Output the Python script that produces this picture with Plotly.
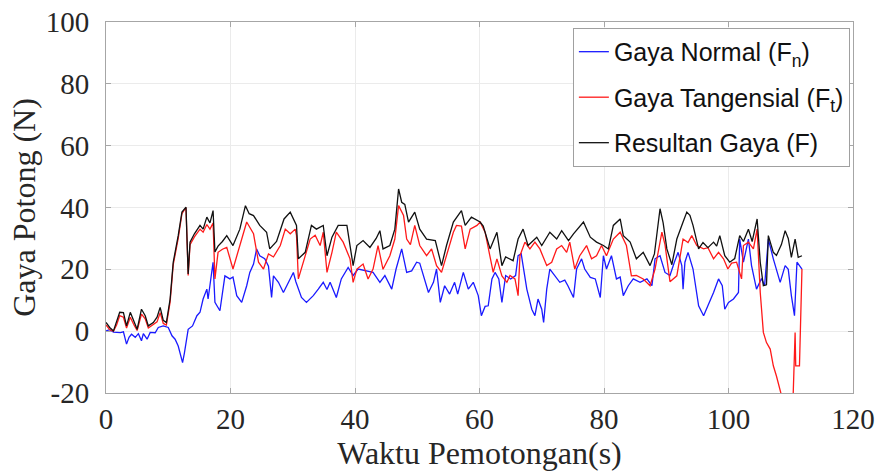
import plotly.graph_objects as go

# ---------------- data ----------------
t_fn = [0.0, 0.6, 1.2, 1.7, 2.3, 2.8, 3.3, 3.7, 4.1, 4.7, 5.2, 5.7, 6.0, 6.6, 7.1, 7.9, 8.4, 9.2, 10.0,
        10.6, 11.1, 11.6, 12.3, 12.6, 13.2, 13.9, 14.6, 15.1, 15.6, 16.2, 16.4, 17.2, 17.5, 18.3, 19.1,
        19.9, 20.4, 21.0, 21.8, 22.6, 23.1, 23.7, 24.2, 24.7, 25.5, 26.1, 26.6, 26.9, 27.7, 28.5, 29.6,
        30.1, 30.5, 30.9, 31.4, 32.2, 33.3, 34.1, 34.9, 35.5, 36.0, 37.0, 37.8, 38.9, 39.7, 40.5, 41.6,
        42.9, 44.0, 44.8, 45.9, 46.6, 47.5, 48.3, 49.1, 49.9, 50.4, 51.0, 51.8, 52.6, 53.1, 53.7, 54.4,
        55.2, 56.0, 56.5, 57.4, 58.2, 59.0, 59.8, 60.3, 60.9, 61.4, 62.0, 62.5, 63.1, 63.6, 64.2, 65.0,
        65.8, 66.2, 66.7, 67.6, 68.4, 68.9, 69.4, 70.0, 70.3, 70.8, 71.3, 72.1, 72.9, 73.7, 74.2, 75.1,
        75.6, 76.4, 76.9, 77.8, 78.6, 79.4, 79.9, 80.4, 81.2, 82.0, 82.6, 83.1, 83.9, 84.7, 85.8, 86.9,
        87.7, 88.2, 89.0, 89.8, 90.6, 91.3, 91.9, 92.5, 92.7, 93.0, 93.5, 94.3, 95.2, 96.0, 96.7, 97.6,
        98.4, 99.0, 99.4, 100.0, 100.8, 101.6, 101.8, 102.4, 103.2, 103.7, 104.5, 105.3, 105.8, 106.4,
        107.2, 108.3, 109.1, 109.6, 110.1, 110.6, 111.0, 111.8]
fn = [0.1, 0.5, -0.3, -0.4, -0.5, -0.2, -4.2, -2.0, -1.0, -2.0, -0.8, -3.1, -0.8, -2.6, -0.4, -0.5, 1.2, 1.7, 1.2,
      -1.5, -2.6, -4.8, -10.2, -7.0, 0.6, 1.7, 5.0, 6.1, 10.4, 13.6, 10.4, 22.3, 9.3, 6.6, 17.9,
      16.9, 17.5, 11.5, 9.3, 14.7, 19.0, 21.7, 26.6, 24.4, 23.4, 21.0, 10.9, 17.9, 15.8, 12.5, 16.9,
      19.0, 16.0, 13.6, 10.9, 9.3, 11.5, 13.6, 15.8, 13.5, 15.8, 10.9, 16.9, 20.6, 18.0, 20.1, 19.6,
      19.0, 15.8, 18.0, 13.6, 20.1, 26.6, 19.0, 19.5, 22.3, 22.0, 18.0, 12.5, 15.8, 20.1, 9.3, 14.7,
      12.0, 15.8, 12.0, 19.0, 13.6, 15.8, 11.5, 5.0, 8.0, 8.2, 16.9, 19.0, 16.9, 9.3, 18.0, 16.9,
      18.0, 24.4, 25.0, 13.6, 7.1, 5.0, 10.4, 7.1, 2.8, 13.6, 20.1, 18.0, 15.8, 16.5, 14.7, 10.9,
      20.1, 23.4, 20.1, 17.4, 16.9, 10.9, 24.4, 20.1, 24.4, 16.9, 17.5, 11.5, 14.7, 16.9, 15.8, 16.9,
      14.7, 23.4, 24.4, 19.0, 18.0, 22.3, 25.5, 21.2, 13.6, 22.3, 25.5, 20.1, 8.2, 5.0, 8.2, 12.5,
      16.9, 14.7, 7.1, 9.3, 10.4, 12.5, 29.8, 22.3, 29.8, 21.2, 13.6, 17.0, 14.7, 29.8,
      23.4, 15.8, 21.2, 20.0, 11.5, 5.0, 22.3, 20.1]

t_ft = [0.0, 0.6, 1.2, 1.7, 2.2, 2.8, 3.3, 3.9, 4.5, 5.0, 5.7, 6.3, 6.8, 7.6, 8.2, 8.7, 9.2, 9.7, 10.3,
        10.8, 11.6, 12.2, 12.85, 13.2, 13.5, 14.2, 15.1, 15.6, 16.2, 16.7, 17.2, 17.5, 18.0, 18.7, 19.4,
        20.4, 21.5, 22.6, 23.7, 24.5, 25.3, 26.1, 26.9, 28.0, 28.8, 29.6, 30.4, 30.6, 30.9, 31.7, 32.8,
        33.6, 34.4, 34.9, 35.5, 36.3, 37.0, 38.1, 39.2, 39.7, 40.3, 41.3, 42.1, 42.9, 43.7, 44.5, 45.6,
        46.4, 47.0, 47.8, 48.3, 48.9, 49.6, 50.4, 51.5, 52.3, 53.1, 53.9, 54.7, 55.8, 56.3, 57.1, 57.7,
        58.5, 59.6, 60.1, 60.9, 61.7, 62.2, 62.8, 63.6, 64.4, 64.9, 65.7, 66.2, 66.5, 67.3, 68.1, 68.9,
        69.7, 70.8, 71.6, 72.4, 73.2, 74.0, 74.5, 75.3, 76.1, 77.2, 78.0, 78.8, 79.6, 80.4, 81.5, 82.6,
        83.6, 84.4, 85.2, 86.3, 87.4, 88.2, 89.3, 89.8, 90.6, 91.7, 92.7, 93.5, 94.1, 94.9, 96.0, 96.7,
        97.6, 98.4, 99.2, 99.9, 100.5, 101.3, 102.1, 102.4, 103.2, 104.0, 104.6, 105.1, 105.6, 106.1,
        106.7, 107.2, 107.7, 108.3, 108.8, 109.5, 110.2, 110.4, 110.7, 110.8, 111.4, 111.8]
ft = [2.0, 0.5, 0.0, 2.0, 5.0, 4.5, 1.0, 4.5, 2.0, 0.2, 5.5, 4.0, 1.0, 2.0, 3.0, 6.0, 2.5, 2.0, 9.5,
      21.5, 30.0, 38.0, 40.0, 18.0, 28.0, 30.5, 33.0, 32.0, 34.5, 33.0, 35.0, 16.9, 25.5, 26.5, 27.1,
      20.1, 27.7, 35.3, 31.5, 22.3, 20.1, 25.0, 24.0, 27.7, 33.0, 31.5, 33.0, 31.0, 16.9, 22.4, 29.8,
      31.0, 27.7, 32.0, 19.0, 25.5, 32.0, 28.8, 23.4, 15.8, 20.1, 21.7, 16.9, 20.1, 27.7, 20.0, 24.4,
      29.8, 40.6, 37.4, 29.8, 28.0, 34.2, 27.7, 24.4, 26.6, 21.2, 19.0, 24.4, 32.0, 34.2, 34.0, 26.6,
      33.0, 34.2, 35.3, 32.0, 23.4, 19.0, 23.4, 17.9, 15.8, 18.0, 16.9, 11.5, 24.4, 28.8, 26.6, 28.8,
      26.6, 21.2, 22.3, 26.6, 27.7, 25.5, 28.8, 20.1, 24.4, 27.7, 23.4, 24.4, 27.7, 24.4, 29.8, 32.0,
      27.7, 17.9, 18.0, 16.9, 14.7, 20.1, 32.0, 28.0, 16.0, 17.9, 29.8, 28.7, 30.9, 27.7, 26.6, 27.0,
      23.4, 25.5, 23.4, 20.1, 22.0, 22.3, 16.9, 27.7, 28.8, 26.6, 33.0, 12.5, -0.4, -3.7,
      -5.8, -11.2, -14.5, -18.8, -23.0, -26.0, -24.0, -19.9, -0.4, -11.2, -11.2, 20.1]

t_f = [0.0, 0.6, 1.2, 1.7, 2.2, 2.8, 3.3, 3.9, 4.5, 5.0, 5.7, 6.3, 6.8, 7.6, 8.2, 8.7, 9.2, 9.7, 10.3,
       10.8, 11.6, 12.2, 12.85, 13.2, 13.5, 14.2, 15.1, 15.6, 16.2, 16.7, 17.2, 17.5, 18.0, 18.7, 19.4,
       20.4, 21.5, 22.4, 23.0, 23.7, 24.7, 25.8, 26.3, 27.4, 28.6, 29.6, 30.6, 30.9, 32.0, 33.0, 33.8,
       34.9, 35.5, 36.3, 37.3, 38.7, 39.7, 40.3, 41.3, 42.4, 43.4, 44.0, 44.5, 45.6, 46.4, 47.0, 47.5,
       48.0, 48.6, 49.6, 50.4, 51.5, 52.9, 53.9, 54.7, 55.8, 57.1, 57.7, 58.7, 60.1, 60.6, 61.7, 62.8,
       63.6, 64.2, 65.4, 66.2, 67.0, 67.8, 69.2, 70.0, 71.3, 72.4, 73.2, 74.3, 75.1, 76.7, 77.8, 78.8,
       79.9, 80.7, 81.5, 82.6, 83.1, 84.2, 85.2, 86.3, 87.4, 88.1, 89.0, 89.5, 90.1, 90.9, 91.7, 92.7,
       93.3, 93.8, 94.3, 95.2, 95.9, 96.7, 97.6, 98.1, 98.6, 99.4, 100.2, 101.0, 101.8, 102.4, 103.2,
       103.8, 104.6, 105.1, 105.6, 106.1, 106.4, 107.2, 107.7, 108.5, 109.1, 109.6, 110.1, 110.7,
       111.2, 111.8]
f = [2.8, 1.2, 0.1, 3.0, 6.1, 6.0, 1.7, 6.1, 2.8, 0.6, 7.1, 5.0, 1.7, 2.8, 4.5, 7.7, 3.5, 2.8, 10.4,
     22.3, 30.9, 38.5, 40.1, 18.5, 28.8, 31.5, 34.2, 33.0, 36.9, 35.0, 39.0, 25.6, 27.5, 29.0, 30.9,
     27.7, 33.0, 40.6, 38.0, 37.4, 34.2, 32.0, 26.6, 29.0, 36.3, 38.5, 34.2, 23.4, 25.5, 34.2, 33.0,
     34.2, 24.4, 30.4, 34.2, 34.2, 21.2, 27.7, 29.3, 27.1, 30.0, 32.5, 26.6, 27.7, 33.0, 46.0, 41.7,
     41.0, 35.3, 38.5, 33.0, 29.8, 29.3, 21.2, 27.7, 35.3, 39.0, 34.2, 36.9, 35.3, 34.0, 26.6, 32.0,
     21.2, 24.0, 22.8, 29.8, 33.0, 27.7, 30.4, 27.7, 32.0, 29.8, 32.5, 29.3, 31.5, 35.3, 30.4, 28.8,
     27.7, 26.6, 34.2, 36.3, 30.9, 28.8, 23.4, 25.5, 21.2, 25.0, 39.6, 35.0, 26.6, 21.5, 29.8, 35.3,
     38.5, 37.5, 34.2, 26.6, 28.7, 27.0, 28.8, 27.5, 30.9, 24.4, 22.3, 23.5, 30.9, 29.0, 33.0,
     29.0, 36.3, 22.3, 14.7, 15.0, 30.9, 25.5, 24.5, 28.0, 32.5, 30.0, 23.9, 29.8,
     23.9, 24.4]

x_ticks = [0, 20, 40, 60, 80, 100, 120]
y_ticks = [-20, 0, 20, 40, 60, 80, 100]

series_names = ["Gaya Normal (F<sub>n</sub>)", "Gaya Tangensial (F<sub>t</sub>)", "Resultan Gaya (F)"]
series_colors = ["#1a1aff", "#ff1a1a", "#111111"]

fig = go.Figure()
for i, (tx, ty) in enumerate([(t_fn, fn), (t_ft, ft), (t_f, f)]):
    fig.add_trace(go.Scatter(
        x=tx, y=ty, mode="lines", name=series_names[i],
        line=dict(color=series_colors[i], width=1.3),
        legendgroup="g%d" % i,
    ))

axis_common = dict(
    showgrid=True, gridcolor="#ebebeb", gridwidth=1,
    showline=True, linecolor="#a6a6a6", linewidth=1, mirror="ticks",
    ticks="inside", ticklen=5, tickcolor="#a6a6a6",
    zeroline=False, automargin=False, ticklabeloverflow="allow",
    tickfont=dict(family="Liberation Serif", size=29, color="#262626"),
)

fig.update_layout(
    width=880, height=472,
    margin=dict(l=106, r=27, t=22, b=79),
    paper_bgcolor="white", plot_bgcolor="white",
    xaxis=dict(range=[0, 120], tickvals=x_ticks, ticktext=[str(v) for v in x_ticks],
               ticklabelstandoff=0,
               title=dict(text="Waktu Pemotongan(s)", standoff=0,
                          font=dict(family="Liberation Serif", size=32, color="#262626")),
               **axis_common),
    yaxis=dict(range=[-20, 100], tickvals=y_ticks, ticktext=[str(v) for v in y_ticks],
               ticklabelstandoff=10,
               title=dict(text="Gaya Potong (N)", standoff=0,
                          font=dict(family="Liberation Serif", size=32, color="#262626")),
               **axis_common),
    legend=dict(
        x=0.625, y=0.984, xanchor="left", yanchor="top",
        bgcolor="white", bordercolor="#a0a0a0", borderwidth=1,
        font=dict(family="Liberation Sans", size=25, color="#111111"),
        itemwidth=30, tracegroupgap=10,
    ),
    showlegend=True,
)

# remove the browser's default 8 px page margin so the figure fills the window
fig.write_html("out.html", config={"displayModeBar": False},
               post_script="document.body.style.margin='0';")
